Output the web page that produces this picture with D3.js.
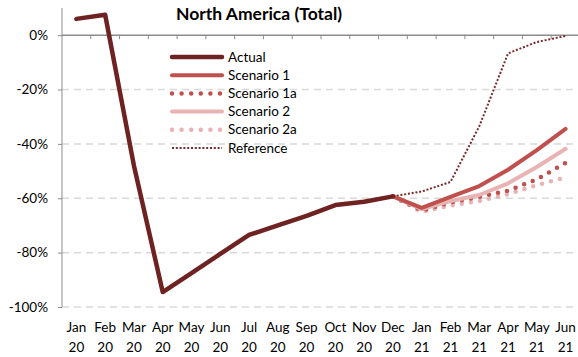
<!DOCTYPE html>
<meta charset="utf-8">
<script src="https://d3js.org/d3.v7.min.js"></script>
<style>
  body { margin: 0; background: #fff; }
  text { font-family: Lato, "Open Sans", sans-serif; fill: #000; }
</style>
<div id="my_dataviz"></div>
<script>

// months on the x axis (two lines each)
var months = ["Jan","Feb","Mar","Apr","May","Jun","Jul","Aug","Sep","Oct","Nov","Dec",
              "Jan","Feb","Mar","Apr","May","Jun"];
var years  = ["20","20","20","20","20","20","20","20","20","20","20","20",
              "21","21","21","21","21","21"];
var yTicks = [0, -20, -40, -60, -80, -100];

// values in %, index = month position
var actual      = [6, 7.5, -48, -94.5, -87.5, -80.5, -73.5, -70, -66.5, -62.5, -61.3, -59.3];
// scenarios start at Dec 20 (index 11)
var scenario1   = [-59.3, -63.5, -59.5, -55.5, -49.5, -42.3, -34.5];
var scenario1a  = [-59.3, -64.5, -61.5, -59.5, -57.2, -53, -47];
var scenario2   = [-59.3, -64, -61, -58.8, -54.5, -48.5, -41.8];
var scenario2a  = [-59.3, -65, -62.7, -61, -58.5, -55.2, -52.3];
var reference   = [-59.3, -57.5, -54, -33.5, -6.7, -2.5, -0.3];

var width = 578, height = 357;

var svg = d3.select("#my_dataviz")
  .append("svg")
    .attr("width", width)
    .attr("height", height);

var x = d3.scaleBand()
  .domain(d3.range(months.length))
  .range([62, 580]);
var y = d3.scaleLinear()
  .domain([-100, 10])
  .range([307, 8]);

function cx(i) { return x(i) + x.bandwidth() / 2; }

// gridlines (dashed)
svg.append("g")
  .selectAll("line")
  .data(yTicks.filter(function(d){ return d != 0; }))
  .enter().append("line")
    .attr("x1", 62).attr("x2", 578)
    .attr("y1", function(d){ return y(d); })
    .attr("y2", function(d){ return y(d); })
    .style("stroke", "#d9d9d9")
    .style("stroke-width", 1.5)
    .style("stroke-dasharray", "7 5");

// y axis
svg.append("g")
  .attr("transform", "translate(62,0)")
  .call(d3.axisLeft(y).tickValues(yTicks).tickSize(4).tickFormat(function(d){ return d + "%"; }))
  .call(function(g){
    g.select(".domain").attr("d", "M0," + y(10) + "V" + y(-100)).style("stroke", "#8c8c8c");
    g.selectAll(".tick line").style("stroke", "#8c8c8c");
    g.selectAll(".tick text")
      .attr("x", -14)
      .style("font-family", "Lato, sans-serif")
      .style("font-size", "13.5px")
      .style("fill", "#000");
  });

// x axis at 0%
var xAxis = svg.append("g");
xAxis.append("line")
  .attr("x1", 62).attr("x2", 578)
  .attr("y1", y(0)).attr("y2", y(0))
  .style("stroke", "#8c8c8c")
  .style("stroke-width", 1.5);
xAxis.selectAll(".xt")
  .data(d3.range(1, months.length))
  .enter().append("line")
    .attr("x1", function(d){ return x(d); })
    .attr("x2", function(d){ return x(d); })
    .attr("y1", y(0)).attr("y2", y(0) + 4)
    .style("stroke", "#8c8c8c");

// x labels
var lab = svg.append("g").selectAll("text")
  .data(months)
  .enter().append("text")
    .attr("text-anchor", "middle")
    .style("font-size", "13.5px");
lab.append("tspan")
  .attr("x", function(d, i){ return cx(i); })
  .attr("y", 332)
  .text(function(d){ return d; });
lab.append("tspan")
  .attr("x", function(d, i){ return cx(i); })
  .attr("y", 352)
  .text(function(d, i){ return years[i]; });

// title
svg.append("text")
  .attr("x", 259).attr("y", 20)
  .attr("text-anchor", "middle")
  .style("font-size", "17.5px")
  .style("font-weight", "bold")
  .text("North America (Total)");

// series
var series = [
  {name: "Reference",  data: reference,  start: 11, color: "#7a2a2a", w: 2, dash: "2 1.8", cap: "butt"},
  {name: "Scenario 2a", data: scenario2a, start: 11, color: "#e8b4b3", w: 4.5, dash: "0 9.2", cap: "round"},
  {name: "Scenario 1a", data: scenario1a, start: 11, color: "#c0504d", w: 4.5, dash: "0 9.2", cap: "round"},
  {name: "Scenario 2",  data: scenario2,  start: 11, color: "#e8b4b3", w: 4, dash: null, cap: "round"},
  {name: "Scenario 1",  data: scenario1,  start: 11, color: "#c0504d", w: 4, dash: null, cap: "round"},
  {name: "Actual",      data: actual,     start: 0,  color: "#6e2222", w: 4.5, dash: null, cap: "round"}
];

var line = d3.line()
  .x(function(d){ return cx(d.i); })
  .y(function(d){ return y(d.v); });

series.forEach(function(s){
  var pts = s.data.map(function(v, k){ return {i: s.start + k, v: v}; });
  svg.append("path")
    .datum(pts)
    .attr("d", line)
    .style("fill", "none")
    .style("stroke", s.color)
    .style("stroke-width", s.w)
    .style("stroke-linecap", s.cap)
    .style("stroke-linejoin", "round")
    .style("stroke-dasharray", s.dash);
});

// legend
var legendOrder = ["Actual", "Scenario 1", "Scenario 1a", "Scenario 2", "Scenario 2a", "Reference"];
var legend = svg.append("g");
legendOrder.forEach(function(name, k){
  var s = series.filter(function(d){ return d.name == name; })[0];
  var ly = 57 + k * 18.2;
  legend.append("line")
    .attr("x1", 172).attr("x2", 222)
    .attr("y1", ly).attr("y2", ly)
    .style("stroke", s.color)
    .style("stroke-width", s.w)
    .style("stroke-linecap", s.cap)
    .style("stroke-dasharray", s.dash == "0 9.2" ? "0 9.6" : s.dash);
  legend.append("text")
    .attr("x", 228).attr("y", ly + 4.5)
    .style("font-size", "13.5px")
    .text(name);
});

</script>
